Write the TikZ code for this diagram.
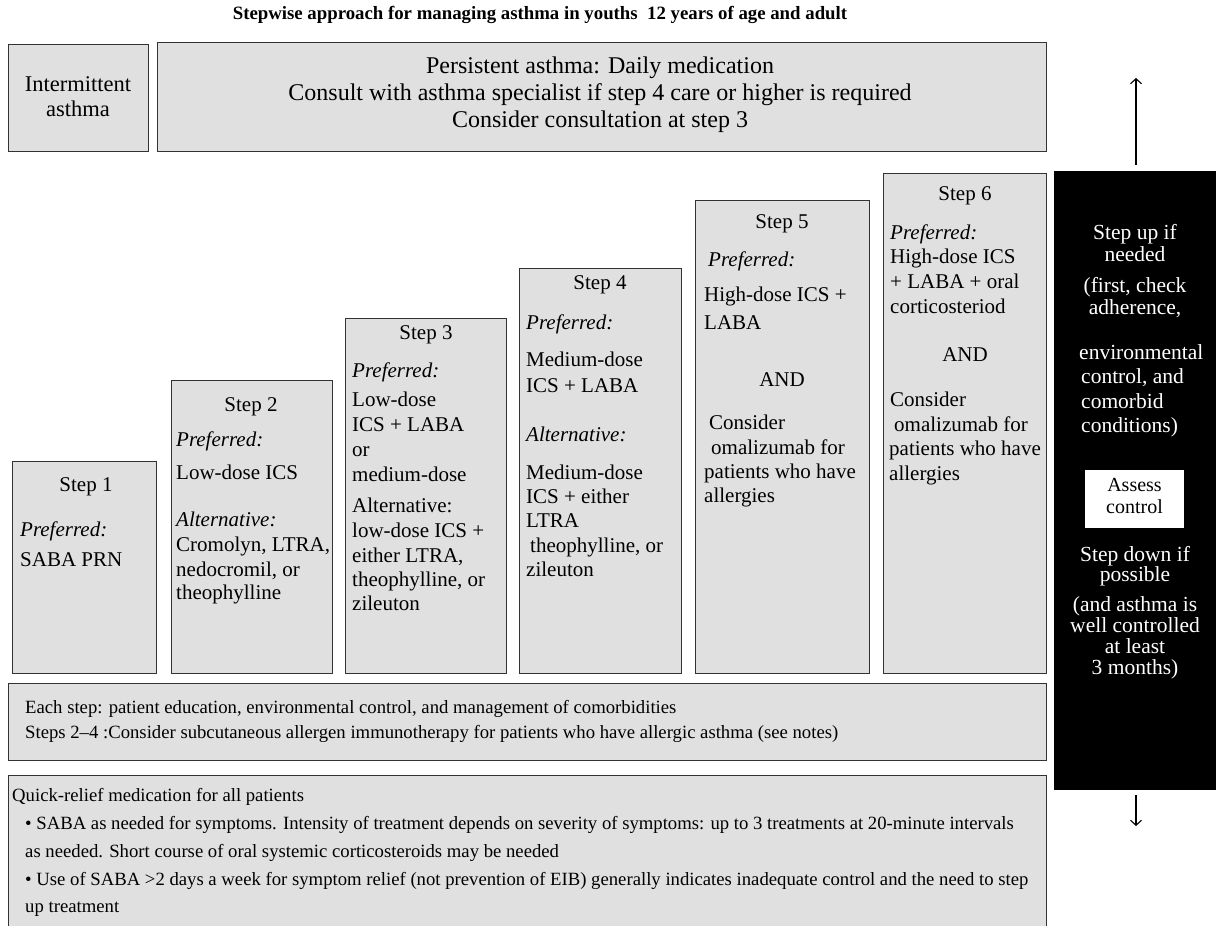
\documentclass[tikz,border=0pt]{standalone}
\usepackage{fontspec}
\setmainfont{Liberation Serif}
\usetikzlibrary{arrows.meta}
\definecolor{boxgray}{HTML}{E0E0E0}
\definecolor{edgegray}{HTML}{333333}
\begin{document}
\begin{tikzpicture}[x=1pt,y=-1pt,
  box/.style={draw=edgegray,line width=1.3pt,fill=boxgray,anchor=north west,inner sep=0pt},
  tx/.style={inner sep=0pt,font=\fontsize{21}{25}\selectfont},
  lt/.style={tx,anchor=mid west},
  ct/.style={tx,anchor=mid},
  hd/.style={inner sep=0pt,anchor=mid,font=\fontsize{22.5}{27}\selectfont},
  ph/.style={inner sep=0pt,anchor=mid,font=\fontsize{24}{28}\selectfont},
  wt/.style={inner sep=0pt,text=white,font=\fontsize{21.5}{25}\selectfont},
  bt/.style={inner sep=0pt,anchor=mid west,font=\fontsize{18.7}{22}\selectfont},
  arr/.style={line width=1.1pt,-{Straight Barb[length=5pt,width=11pt,line width=1.1pt]}}
]
\useasboundingbox (0,0) rectangle (1216,926);

% title
\node[inner sep=0pt,anchor=mid,font=\fontsize{18.8}{22}\selectfont\bfseries] (title) at (540,17)
  {Stepwise approach for managing asthma in youths\ \ 12 years of age and adult};

% top boxes
\node[box,minimum width=140pt,minimum height=107pt] (inter) at (8,44) {};
\node[hd] (inter1) at (78,89) {Intermittent};
\node[hd] (inter2) at (78,114) {asthma};
\node[box,minimum width=889pt,minimum height=109pt] (pers) at (157,42) {};
\node[ph] (pers1) at (600,71) {Persistent asthma: Daily medication};
\node[ph] (pers2) at (600,98) {Consult with asthma specialist if step 4 care or higher is required};
\node[ph] (pers3) at (600,125) {Consider consultation at step 3};

% step boxes
\node[box,minimum width=144pt,minimum height=212pt] (s1) at (12,461) {};
\node[box,minimum width=161pt,minimum height=293pt] (s2) at (171,380) {};
\node[box,minimum width=161pt,minimum height=355pt] (s3) at (345,318) {};
\node[box,minimum width=162pt,minimum height=405pt] (s4) at (519,268) {};
\node[box,minimum width=174pt,minimum height=473pt] (s5) at (695,200) {};
\node[box,minimum width=163pt,minimum height=500pt] (s6) at (883,173) {};

% step 1
\node[ct] (s1h) at (86,489) {Step 1};
\node[lt] (s1a) at (20,534) {\textit{Preferred:}};
\node[lt] (s1b) at (20,564) {SABA PRN};
% step 2
\node[ct] (s2h) at (251,409) {Step 2};
\node[lt] (s2a) at (176,444) {\textit{Preferred:}};
\node[lt] (s2b) at (176,477) {Low-dose ICS};
\node[lt] (s2c) at (176,524) {\textit{Alternative:}};
\node[lt] (s2d) at (176,549) {Cromolyn, LTRA,};
\node[lt] (s2e) at (176,574) {nedocromil, or};
\node[lt] (s2f) at (176,597) {theophylline};
% step 3
\node[ct] (s3h) at (426,337) {Step 3};
\node[lt] (s3a) at (352,375) {\textit{Preferred:}};
\node[lt] (s3b) at (352,404) {Low-dose};
\node[lt] (s3c) at (352,429) {ICS + LABA};
\node[lt] (s3d) at (352,454) {or};
\node[lt] (s3e) at (352,479) {medium-dose};
\node[lt] (s3f) at (352,510) {Alternative:};
\node[lt] (s3g) at (352,535) {low-dose ICS +};
\node[lt] (s3i) at (352,560) {either LTRA,};
\node[lt] (s3j) at (352,584) {theophylline, or};
\node[lt] (s3k) at (352,608) {zileuton};
% step 4
\node[ct] (s4h) at (600,287) {Step 4};
\node[lt] (s4a) at (526,327) {\textit{Preferred:}};
\node[lt] (s4b) at (526,364) {Medium-dose};
\node[lt] (s4c) at (526,390) {ICS + LABA};
\node[lt] (s4d) at (526,439) {\textit{Alternative:}};
\node[lt] (s4e) at (526,477) {Medium-dose};
\node[lt] (s4f) at (526,501) {ICS + either};
\node[lt] (s4g) at (526,525) {LTRA};
\node[lt] (s4i) at (530,550) {theophylline, or};
\node[lt] (s4j) at (526,574) {zileuton};
% step 5
\node[ct] (s5h) at (782,226) {Step 5};
\node[lt] (s5a) at (708,264) {\textit{Preferred:}};
\node[lt] (s5b) at (704,299) {High-dose ICS +};
\node[lt] (s5c) at (704,327) {LABA};
\node[ct] (s5d) at (782,384) {AND};
\node[lt] (s5e) at (709,427) {Consider};
\node[lt] (s5f) at (711,452) {omalizumab for};
\node[lt] (s5g) at (704,476) {patients who have};
\node[lt] (s5i) at (704,500) {allergies};
% step 6
\node[ct] (s6h) at (965,198) {Step 6};
\node[lt] (s6a) at (890,237) {\textit{Preferred:}};
\node[lt] (s6b) at (890,261) {High-dose ICS};
\node[lt] (s6c) at (890,286) {+ LABA + oral};
\node[lt] (s6d) at (890,311) {corticosteriod};
\node[ct] (s6e) at (965,359) {AND};
\node[lt] (s6f) at (890,404) {Consider};
\node[lt] (s6g) at (894,429) {omalizumab for};
\node[lt] (s6i) at (889,453) {patients who have};
\node[lt] (s6j) at (889,478) {allergies};

% each step box
\node[box,minimum width=1038pt,minimum height=77pt] (each) at (8,683) {};
\node[bt] (each1) at (25,711) {Each step: patient education, environmental control, and management of comorbidities};
\node[bt] (each2) at (25,736) {Steps 2--4 :Consider subcutaneous allergen immunotherapy for patients who have allergic asthma (see notes)};

% quick relief box
\node[box,minimum width=1038pt,minimum height=170pt] (quick) at (8,775) {};
\node[bt] (q1) at (12,799) {Quick-relief medication for all patients};
\node[bt] (q2) at (25,827) {\textbullet\ SABA as needed for symptoms. Intensity of treatment depends on severity of symptoms: up to 3 treatments at 20-minute intervals};
\node[bt] (q3) at (25,855) {as needed. Short course of oral systemic corticosteroids may be needed};
\node[bt] (q4) at (25,883) {\textbullet\ Use of SABA >2 days a week for symptom relief (not prevention of EIB) generally indicates inadequate control and the need to step};
\node[bt] (q5) at (25,910) {up treatment};

% black column
\node[fill=black,anchor=north west,inner sep=0pt,minimum width=170pt,minimum height=619pt] (ctrl) at (1054,171) {};
\coordinate (uptop) at (1136,78);
\coordinate (dnend) at (1136,826);
\draw[arr] (ctrl.north -| uptop) ++(0,-6) -- (uptop);
\draw[arr] (ctrl.south -| dnend) ++(0,5) -- (dnend);

\node[wt,anchor=mid] (u1) at (1135,237) {Step up if};
\node[wt,anchor=mid] (u2) at (1135,259) {needed};
\node[wt,anchor=mid] (u3) at (1135,290) {(first, check};
\node[wt,anchor=mid] (u4) at (1135,312) {adherence,};
\node[wt,anchor=mid west] (u5) at (1079,357) {environmental};
\node[wt,anchor=mid west] (u6) at (1081,381) {control, and};
\node[wt,anchor=mid west] (u7) at (1081,406) {comorbid};
\node[wt,anchor=mid west] (u8) at (1081,430) {conditions)};

\node[fill=white,anchor=north west,inner sep=0pt,minimum width=99pt,minimum height=58pt] (assess) at (1085,470) {};
\node[inner sep=0pt,anchor=mid,font=\fontsize{20}{22}\selectfont] (assess1) at (1134.5,489) {Assess};
\node[inner sep=0pt,anchor=mid,font=\fontsize{20}{22}\selectfont] (assess2) at (1134.5,511) {control};

\node[wt,anchor=mid] (d1) at (1135,559) {Step down if};
\node[wt,anchor=mid] (d2) at (1135,579) {possible};
\node[wt,anchor=mid] (d3) at (1135,609) {(and asthma is};
\node[wt,anchor=mid] (d4) at (1135,630) {well controlled};
\node[wt,anchor=mid] (d5) at (1135,651) {at least};
\node[wt,anchor=mid] (d6) at (1135,672) {3 months)};
\end{tikzpicture}
\end{document}
